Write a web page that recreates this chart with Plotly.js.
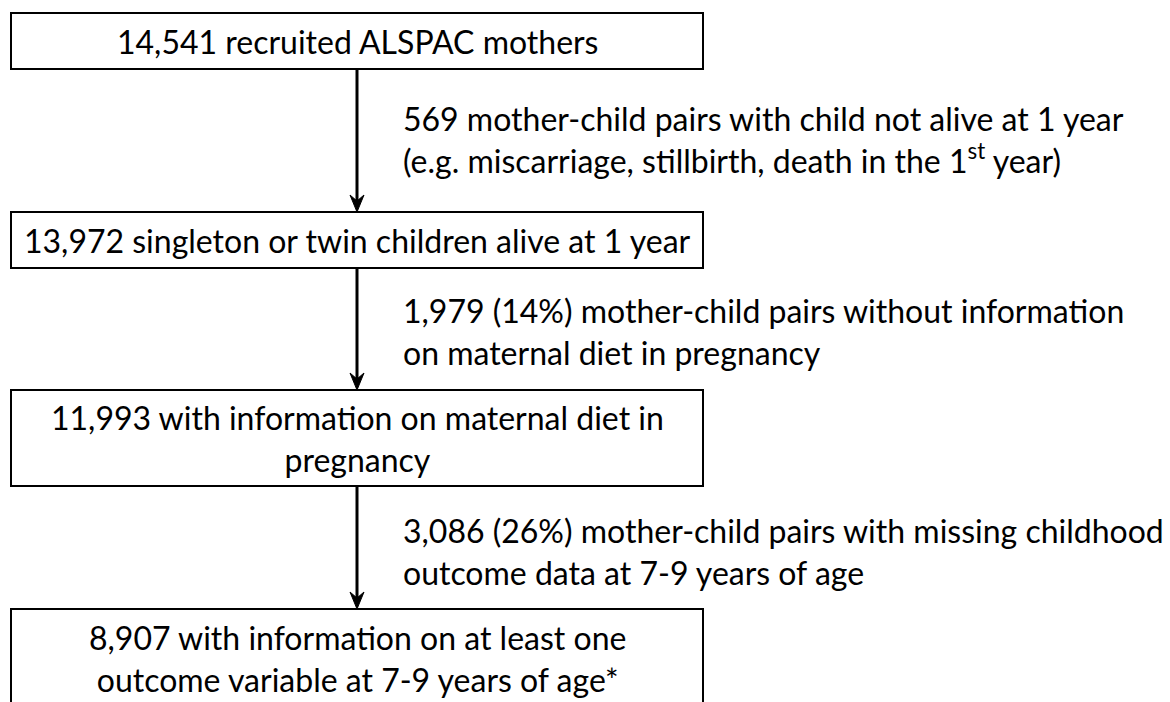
<!DOCTYPE html>
<html>
<head>
<meta charset="utf-8">
<script src="https://cdn.plot.ly/plotly-3.0.1.min.js"></script>
<style>html,body{margin:0;padding:0;background:#fff;}#chart{width:1170px;height:702px;}</style>
</head>
<body>
<div id="chart"></div>
<script>
// Flowchart data
const stageCounts = [14541, 13972, 11993, 8907];
const stageLabels = [
  "recruited ALSPAC mothers",
  "singleton or twin children alive at 1 year",
  "with information on maternal diet in<br>pregnancy",
  "with information on at least one<br>outcome variable at 7-9 years of age*"
];
const excludedCounts = [569, 1979, 3086];
const excludedPct = [null, 14, 26];
const excludedLabels = [
  "mother-child pairs with child not alive at 1 year<br>(e.g. miscarriage, stillbirth, death in the 1<sup>st</sup> year)",
  "mother-child pairs without information<br>on maternal diet in pregnancy",
  "mother-child pairs with missing childhood<br>outcome data at 7-9 years of age"
];

// layout geometry (pixels)
const boxX0 = 11, boxX1 = 703;
const boxTop = [13, 212, 390, 609];
const boxBot = [69, 268, 486, 760];
const exclX = 401;
const exclY = [139, 331, 551];
const FONT = "Lato, 'Open Sans', sans-serif";
const FS = 32;

const fmt = n => n.toLocaleString('en-US');

const shapes = [];
const annotations = [];
const cx = (boxX0 + boxX1) / 2;
stageCounts.forEach((c, i) => {
  shapes.push({type: 'rect', xref: 'x', yref: 'y', x0: boxX0, x1: boxX1, y0: boxTop[i], y1: boxBot[i],
    line: {color: '#000', width: 2}, fillcolor: 'rgba(0,0,0,0)'});
  const yc = i < 3 ? (boxTop[i] + boxBot[i]) / 2 : 658;
  annotations.push({x: cx, y: yc, xref: 'x', yref: 'y', text: fmt(c) + ' ' + stageLabels[i],
    showarrow: false, xanchor: 'center', yanchor: 'middle', align: 'center',
    font: {family: FONT, size: FS, color: '#000'}});
});
excludedCounts.forEach((c, i) => {
  const pre = fmt(c) + (excludedPct[i] !== null ? ' (' + excludedPct[i] + '%)' : '');
  annotations.push({x: exclX, y: exclY[i], xref: 'x', yref: 'y', text: pre + ' ' + excludedLabels[i],
    showarrow: false, xanchor: 'left', yanchor: 'middle', align: 'left',
    font: {family: FONT, size: FS, color: '#000'}});
  const y0 = boxBot[i], y1 = boxTop[i + 1];
  shapes.push({type: 'line', xref: 'x', yref: 'y', x0: cx, x1: cx, y0: y0, y1: y1 - 8,
    line: {color: '#000', width: 3}});
  shapes.push({type: 'path', xref: 'x', yref: 'y',
    path: `M ${cx - 7} ${y1 - 17} L ${cx} ${y1} L ${cx + 7} ${y1 - 17} L ${cx} ${y1 - 11} Z`,
    fillcolor: '#000', line: {color: '#000', width: 1}});
});

const layout = {
  width: 1170, height: 702,
  margin: {l: 0, r: 0, t: 0, b: 0},
  paper_bgcolor: '#fff', plot_bgcolor: '#fff',
  xaxis: {range: [0, 1170], visible: false, fixedrange: true},
  yaxis: {range: [702, 0], visible: false, fixedrange: true},
  showlegend: false,
  shapes: shapes,
  annotations: annotations
};
Plotly.newPlot('chart', [], layout, {staticPlot: true});
</script>
</body>
</html>
